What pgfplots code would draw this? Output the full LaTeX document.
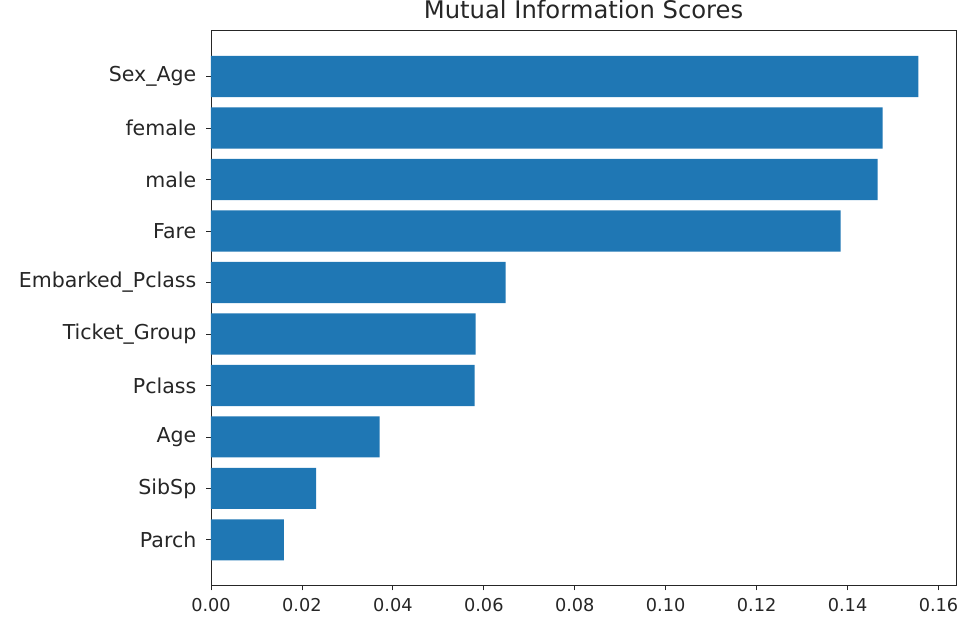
\documentclass[border=0pt]{standalone}
\usepackage{fontspec}
\setmainfont{DejaVu Sans}
\usepackage{pgfplots}
\pgfplotsset{compat=1.18}
\definecolor{mplblue}{HTML}{1F77B4}
\begin{document}
\begin{tikzpicture}
\path (0pt,0pt) rectangle (723pt,465.75pt);
\begin{axis}[
  at={(158.25pt,27pt)}, anchor=south west,
  scale only axis,
  width=558.75pt, height=416.25pt,
  xbar, bar width=0.8,
  xmin=0, xmax=0.16385,
  ymin=-0.89, ymax=9.89,
  xtick={0,0.02,0.04,0.06,0.08,0.10,0.12,0.14,0.16},
  ytick={0,1,2,3,4,5,6,7,8,9},
  yticklabels={Parch,SibSp,Age,Pclass,Ticket\_Group,Embarked\_Pclass,Fare,male,female,Sex\_Age},
  scaled x ticks=false,
  xticklabel style={font=\fontsize{13.3}{15}\selectfont, text=black!85, inner sep=0pt, yshift=-5.5pt,
    /pgf/number format/fixed, /pgf/number format/fixed zerofill,
    /pgf/number format/precision=2, /pgf/number format/assume math mode=true},
  yticklabel style={font=\fontsize{15.4}{17}\selectfont, text=black!85, xshift=-4pt},
  tick align=outside, xtick pos=lower, ytick pos=left,
  major tick length=3.5pt,
  tick style={line width=0.6pt, black!85},
  axis line style={line width=0.6pt, black!85},
  title={Mutual Information Scores},
  title style={font=\fontsize{18.2}{20}\selectfont, text=black!85, inner sep=0pt, at={(0.5,1)}, anchor=base, yshift=3.2pt},
]
\addplot[fill=mplblue, draw=none] coordinates {
  (0.0160,0) (0.0231,1) (0.0371,2) (0.0580,3) (0.0582,4)
  (0.0648,5) (0.1385,6) (0.1466,7) (0.1477,8) (0.1556,9)
};
\end{axis}
\end{tikzpicture}
\end{document}
